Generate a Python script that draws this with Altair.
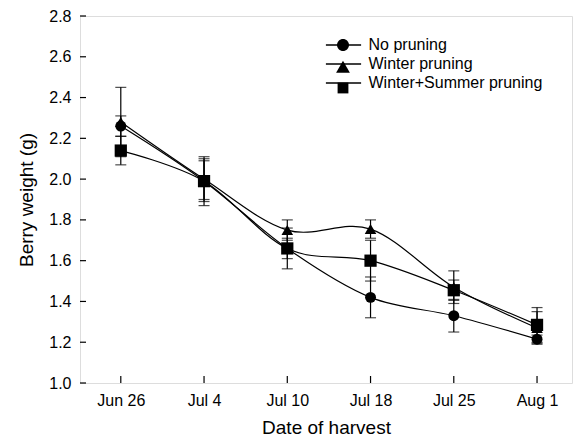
import json
import altair as alt
import pandas as pd

# ---- data ----
dates = ["Jun 26", "Jul 4", "Jul 10", "Jul 18", "Jul 25", "Aug 1"]
series_names = ["No pruning", "Winter pruning", "Winter+Summer pruning"]

no_pruning = [2.26, 1.99, 1.66, 1.42, 1.33, 1.215]
no_pruning_err = [0.05, 0.10, 0.05, 0.10, 0.08, 0.02]

winter = [2.28, 2.00, 1.75, 1.755, 1.47, 1.27]
winter_err = [0.17, 0.10, 0.05, 0.045, 0.08, 0.08]

winter_summer = [2.14, 1.99, 1.66, 1.60, 1.455, 1.285]
winter_summer_err = [0.07, 0.12, 0.10, 0.10, 0.05, 0.085]

y_ticks = [1.0, 1.2, 1.4, 1.6, 1.8, 2.0, 2.2, 2.4, 2.6, 2.8]

rows = []
for name, vals, errs in zip(series_names,
                            [no_pruning, winter, winter_summer],
                            [no_pruning_err, winter_err, winter_summer_err]):
    for i, (v, e) in enumerate(zip(vals, errs)):
        rows.append({"series": name, "line_series": name, "legend_series": name,
                     "idx": i, "date": dates[i], "value": v, "lo": v - e, "hi": v + e})
df = pd.DataFrame(rows)
ytick_df = pd.DataFrame({"value": y_ticks})
xtick_df = pd.DataFrame({"idx": list(range(len(dates)))})

FONT = "Liberation Sans"
W, H = 492, 367
LABEL_FS = 16
TITLE_FS = 19

x_scale = alt.Scale(domain=[-0.49, 5.42], nice=False, zero=False)
y_scale = alt.Scale(domain=[1.0, 2.8], nice=False, zero=False)

x_axis = alt.Axis(values=list(range(len(dates))),
                  labelExpr=json.dumps(dates) + "[round(datum.value)]",
                  title="Date of harvest", ticks=False, domain=False, grid=False,
                  labelPadding=9, titlePadding=10, labelFontSize=LABEL_FS, titleFontSize=TITLE_FS,
                  labelFont=FONT, titleFont=FONT, labelColor="black", titleColor="black",
                  titleFontWeight="normal")
y_axis = alt.Axis(values=y_ticks, format=".1f", title="Berry weight (g)",
                  ticks=False, domain=False, grid=False,
                  labelPadding=9, titlePadding=12, labelFontSize=LABEL_FS, titleFontSize=TITLE_FS,
                  labelFont=FONT, titleFont=FONT, labelColor="black", titleColor="black",
                  titleFontWeight="normal")

X = alt.X("idx:Q", scale=x_scale, axis=x_axis)
Y = alt.Y("value:Q", scale=y_scale, axis=y_axis)

base = alt.Chart(df)

# lines, with a legend made of long horizontal strokes (labels shown here)
lines = base.mark_line(interpolate="cardinal", strokeWidth=1.2).encode(
    x=X, y=Y,
    color=alt.Color("line_series:N", sort=series_names,
                    scale=alt.Scale(range=["black"] * 3),
                    legend=alt.Legend(title=None, orient="none", legendX=255.5, legendY=21,
                                      symbolType="M-3.2,0H3.2", symbolSize=121,
                                      symbolStrokeWidth=1.3, symbolStrokeColor="black",
                                      symbolFillColor="transparent",
                                      labelFontSize=LABEL_FS, labelFont=FONT, labelColor="black",
                                      labelOffset=17, labelLimit=400, rowPadding=3, padding=0)),
)

err = base.mark_rule(strokeWidth=1.2, color="black").encode(
    x=X, y=alt.Y("lo:Q", scale=y_scale, axis=y_axis), y2="hi:Q", detail="series:N")
cap_lo = base.mark_tick(orient="horizontal", size=11, thickness=1.2, color="black").encode(
    x=X, y=alt.Y("lo:Q", scale=y_scale, axis=y_axis))
cap_hi = base.mark_tick(orient="horizontal", size=11, thickness=1.2, color="black").encode(
    x=X, y=alt.Y("hi:Q", scale=y_scale, axis=y_axis))

# legend-only layer (no data rows): marker symbols laid over the line legend
legend_paths = [
    "M-1,0A1,1,0,1,0,1,0A1,1,0,1,0,-1,0Z",
    "M0,-1.05L1.15,0.95L-1.15,0.95Z",
    "M-0.9,-0.9H0.9V0.9H-0.9Z",
]
legend_layer = base.transform_filter("false").mark_point(
    filled=True, color="black", opacity=1
).encode(
    x=X, y=Y,
    shape=alt.Shape("legend_series:N",
                    scale=alt.Scale(domain=series_names, range=legend_paths),
                    legend=alt.Legend(title=None, orient="none", legendX=255, legendY=21,
                                      symbolSize=144, symbolFillColor="black",
                                      symbolOpacity=1,
                                      labelFontSize=LABEL_FS, labelFont=FONT, labelColor="black",
                                      labelOpacity=0,
                                      labelLimit=400, labelOffset=17, rowPadding=3, padding=0)),
)

points = base.mark_point(filled=True, opacity=1, color="black").encode(
    x=X, y=Y,
    shape=alt.Shape("series:N",
                    scale=alt.Scale(domain=series_names,
                                    range=["circle", "triangle-up", "square"]),
                    legend=None),
    size=alt.Size("series:N",
                  scale=alt.Scale(domain=series_names, range=[120, 150, 110]),
                  legend=None),
)

yticks = alt.Chart(ytick_df).mark_rule(strokeWidth=1.2, color="black").encode(
    y=Y, x=alt.value(0), x2=alt.value(6))
xticks = alt.Chart(xtick_df).mark_rule(strokeWidth=1.2, color="black").encode(
    x=X, y=alt.value(H), y2=alt.value(H - 7))

chart = alt.layer(legend_layer, lines, err, cap_lo, cap_hi, points, yticks, xticks).resolve_scale(
    shape="independent", size="independent"
).resolve_legend(shape="independent").properties(
    width=W, height=H,
    autosize=alt.AutoSizeParams(type="none"),
    padding={"left": 80, "top": 16, "right": 8, "bottom": 59},
).configure_view(stroke="black", strokeWidth=1.5).configure(background="white")

chart.save("out.html", embed_options={"renderer": "svg", "actions": False})
